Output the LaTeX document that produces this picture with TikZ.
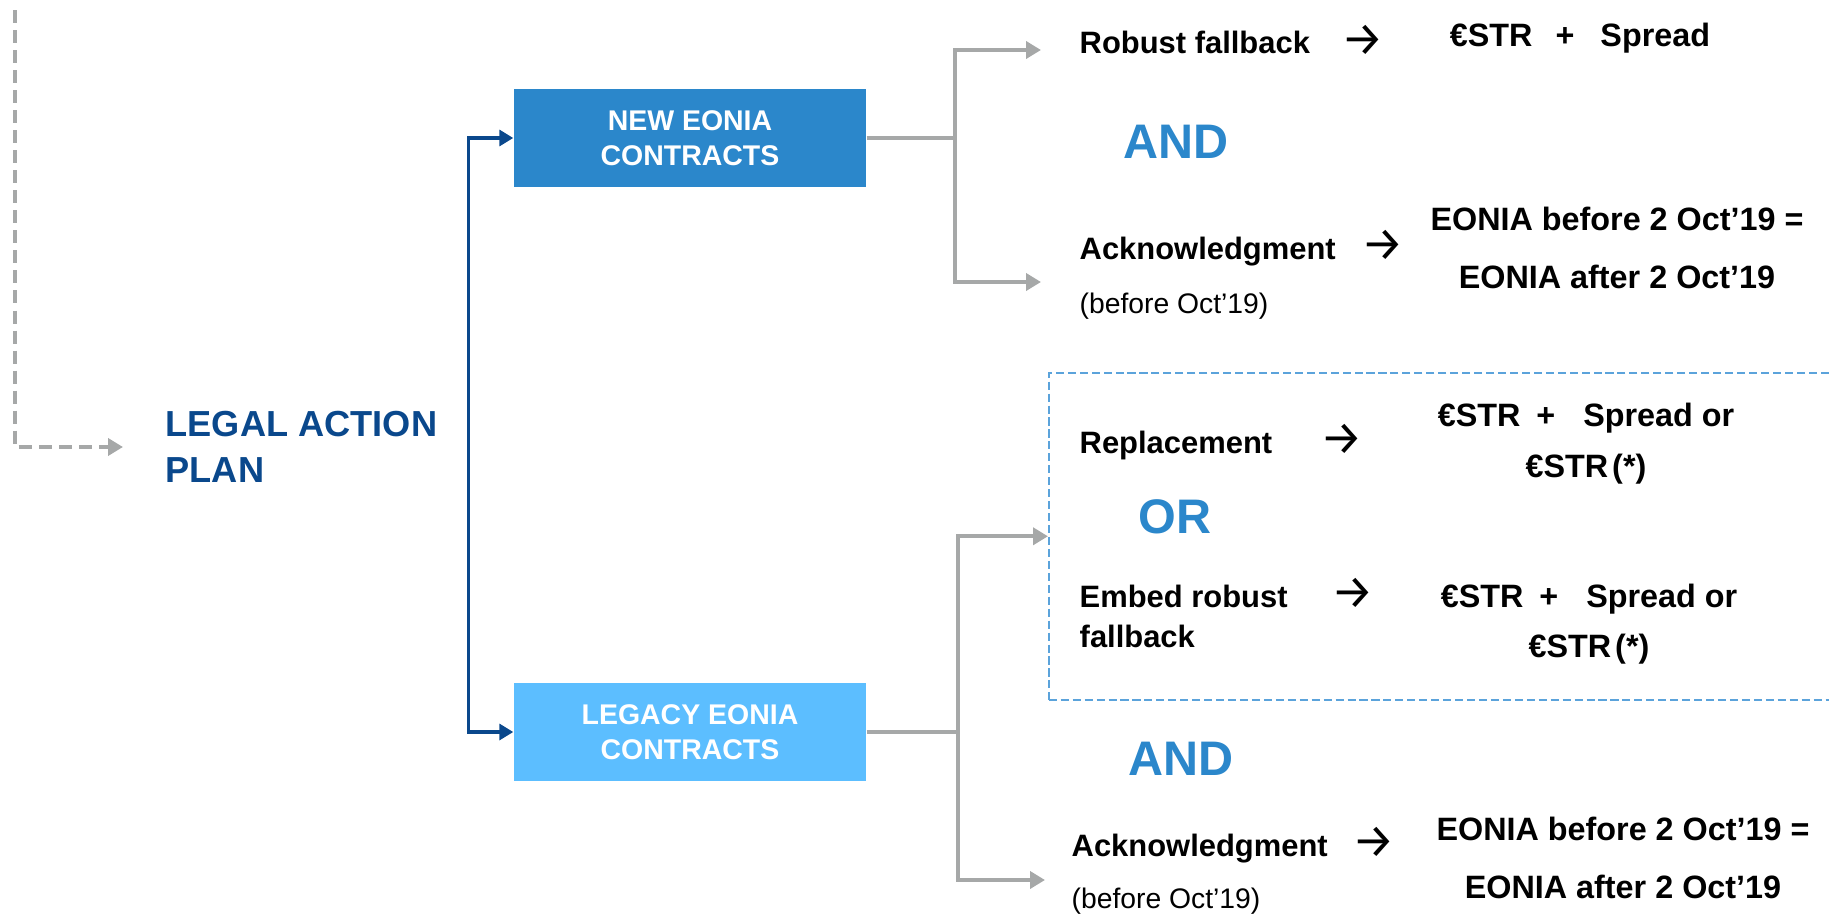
\documentclass[tikz,border=0pt]{standalone}
\usepackage{fontspec}
\setmainfont{Liberation Sans}
\newfontfamily\arrowfont{Fira Sans}
\usepackage{tikz}
\usepackage{xcolor}
\usetikzlibrary{arrows.meta}
\usetikzlibrary{positioning}
\definecolor{newblue}{RGB}{43,135,203}
\definecolor{legacyblue}{RGB}{92,190,255}
\definecolor{planblue}{RGB}{10,72,140}
\definecolor{linegray}{RGB}{166,168,168}
\definecolor{frameblue}{RGB}{91,163,219}
\newcommand{\thento}{\raisebox{-0.5pt}{\arrowfont\mdseries\fontsize{13.5}{13.5}\selectfont →}}
\tikzstyle{planlabel} = [inner sep=0pt, anchor=west, align=left, text=planblue, font=\bfseries\fontsize{10.3}{13.1}\selectfont]
\tikzstyle{newbox} = [rectangle, minimum width=3.52cm, minimum height=0.98cm, text centered, align=center, fill=newblue, text=white, font=\bfseries\fontsize{8.1}{9.9}\selectfont]
\tikzstyle{legacybox} = [rectangle, minimum width=3.52cm, minimum height=0.98cm, text centered, align=center, fill=legacyblue, text=white, font=\bfseries\fontsize{8.1}{9.9}\selectfont]
\tikzstyle{altframe} = [rectangle, draw=frameblue, line width=0.45pt, dash pattern=on 2.3pt off 1.1pt]
\tikzstyle{choice} = [inner sep=0pt, anchor=base west, font=\bfseries\fontsize{8.8}{10.5}\selectfont]
\tikzstyle{note} = [inner sep=0pt, anchor=base west, font=\fontsize{8.05}{10}\selectfont]
\tikzstyle{outcome} = [inner sep=0pt, anchor=base, font=\bfseries\fontsize{9.2}{11}\selectfont]
\tikzstyle{joiner} = [inner sep=0pt, anchor=base west, text=newblue, font=\bfseries\fontsize{13.8}{16}\selectfont]
\tikzstyle{grayline} = [line width=1.1pt, draw=linegray]
\tikzstyle{grayarrow} = [line width=1.1pt, draw=linegray, -{Triangle[length=1.5mm,width=1.7mm]}]
\tikzstyle{feedarrow} = [line width=1.1pt, draw=linegray, dash pattern=on 3.7pt off 2pt, -{Triangle[length=1.5mm,width=1.7mm]}]
\tikzstyle{bluearrow} = [line width=0.95pt, draw=planblue, {Triangle[length=1.4mm,width=1.6mm]}-{Triangle[length=1.4mm,width=1.6mm]}]

\begin{document}
\begin{tikzpicture}[node distance=2cm]
        \useasboundingbox (0,0) rectangle (18.29,-9.15);

        \node (plan) [planlabel] at (1.65,-4.47) {LEGAL ACTION\\PLAN};
        \node (newc) [newbox] at (6.90,-1.38) {NEW EONIA\\CONTRACTS};
        \node (legacy) [legacybox, below of=newc, yshift=-3.94cm] {LEGACY EONIA\\CONTRACTS};
        \node (altbox) [altframe, anchor=north west, minimum width=8cm, minimum height=3.27cm] at (10.48,-3.72) {};

        \node (robust) [choice] at (10.79,-0.54) {Robust fallback\hspace{0.32cm}\thento};
        \node (robustres) [outcome] at (15.80,-0.46) {€STR\hspace{0.23cm}+\hspace{0.26cm}Spread};
        \node (and1) [joiner] at (11.23,-1.58) {AND};
        \node (ack1) [choice] at (10.79,-2.59) {Acknowledgment\hspace{0.26cm}\thento};
        \node (before1) [note, yshift=-0.54cm] at (ack1.base west) {(before Oct’19)};
        \node (eonbefore1) [outcome] at (16.17,-2.30) {EONIA before 2 Oct’19 =};
        \node (eonafter1) [outcome, yshift=-0.58cm] at (eonbefore1.base) {EONIA after 2 Oct’19};

        \node (repl) [choice] at (10.79,-4.53) {Replacement\hspace{0.48cm}\thento};
        \node (replres) [outcome] at (15.86,-4.26) {€STR\hspace{0.16cm}+\hspace{0.28cm}Spread or};
        \node (replalt) [outcome, yshift=-0.51cm] at (replres.base) {€STR\hspace{0.04cm}(*)};
        \node (orjoin) [joiner] at (11.38,-5.33) {OR};
        \node (embed) [choice] at (10.79,-6.07) {Embed robust\hspace{0.44cm}\thento};
        \node (embed2) [choice, yshift=-0.40cm] at (embed.base west) {fallback};
        \node (embedres) [outcome] at (15.89,-6.07) {€STR\hspace{0.16cm}+\hspace{0.28cm}Spread or};
        \node (embedalt) [outcome, yshift=-0.50cm] at (embedres.base) {€STR\hspace{0.04cm}(*)};

        \node (and2) [joiner] at (11.28,-7.75) {AND};
        \node (ack2) [choice] at (10.71,-8.56) {Acknowledgment\hspace{0.25cm}\thento};
        \node (before2) [note, yshift=-0.52cm] at (ack2.base west) {(before Oct’19)};
        \node (eonbefore2) [outcome] at (16.23,-8.40) {EONIA before 2 Oct’19 =};
        \node (eonafter2) [outcome, yshift=-0.58cm] at (eonbefore2.base) {EONIA after 2 Oct’19};

        \coordinate (feed) at (0.15,-0.10);
        \coordinate (split) at ([xshift=-0.45cm]legacy.west);
        \coordinate (newfork) at ([xshift=0.88cm]newc.east);
        \coordinate (legacyfork) at ([xshift=0.91cm]legacy.east);
        \coordinate (robusttip) at (10.41,-0.50);
        \coordinate (acktip) at (10.41,-2.82);
        \coordinate (acktip2) at (10.45,-8.80);

        \draw [feedarrow] (feed) |- ([xshift=-0.42cm]plan.west);
        \draw [bluearrow] (newc.west) -| (split) -- (legacy.west);
        \draw [grayline] (newc.east) -- (newfork);
        \draw [grayarrow] (newfork) |- (robusttip);
        \draw [grayarrow] (newfork) |- (acktip);
        \draw [grayline] (legacy.east) -- (legacyfork);
        \draw [grayarrow] (legacyfork) |- (altbox.west);
        \draw [grayarrow] (legacyfork) |- (acktip2);
    \end{tikzpicture}
\end{document}
